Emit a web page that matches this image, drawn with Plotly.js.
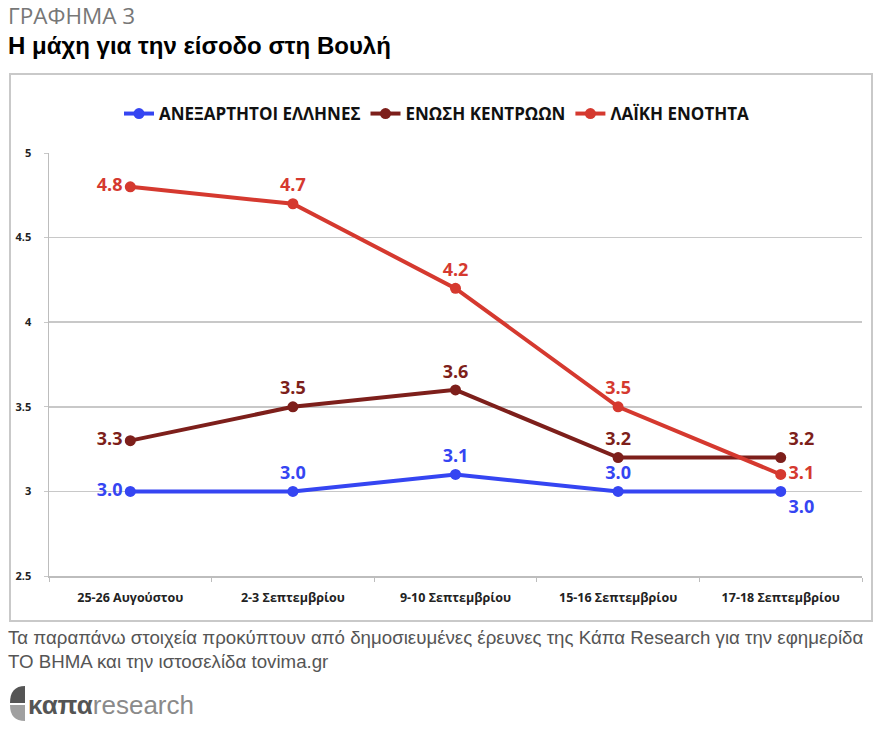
<!DOCTYPE html>
<html>
<head>
<meta charset="utf-8">
<script src="https://cdn.plot.ly/plotly-3.0.1.min.js"></script>
<style>
  html, body { margin: 0; padding: 0; background: #fff; }
  #chart { width: 881px; height: 731px; }
</style>
</head>
<body>
<div id="chart"></div>
<script>
// survey dates
const dates = ['25-26 Αυγούστου', '2-3 Σεπτεμβρίου', '9-10 Σεπτεμβρίου', '15-16 Σεπτεμβρίου', '17-18 Σεπτεμβρίου'];

// party names
const seriesNames = ['ΑΝΕΞΑΡΤΗΤΟΙ ΕΛΛΗΝΕΣ', 'ΕΝΩΣΗ ΚΕΝΤΡΩΩΝ', 'ΛΑΪΚΗ ΕΝΟΤΗΤΑ'];

// percentages
const anel = [3.0, 3.0, 3.1, 3.0, 3.0];
const enosi = [3.3, 3.5, 3.6, 3.2, 3.2];
const laiki = [4.8, 4.7, 4.2, 3.5, 3.1];

const yTicks = [2.5, 3, 3.5, 4, 4.5, 5];

const colors = ['#3545f2', '#7d1f1b', '#d5392f'];
const labelPos = [
  ['middle left', 'top center', 'top center', 'top center', 'bottom right'],
  ['middle left', 'top center', 'top center', 'top center', 'top right'],
  ['middle left', 'top center', 'top center', 'top center', 'middle right']
];

const allSeries = [anel, enosi, laiki];

const traces = allSeries.map((vals, i) => ({
  x: dates,
  y: vals,
  name: seriesNames[i],
  type: 'scatter',
  mode: 'lines+markers+text',
  line: { color: colors[i], width: 4 },
  marker: { color: colors[i], size: 11 },
  text: vals.map(v => v.toFixed(1)),
  textposition: labelPos[i],
  textfont: { family: 'Open Sans, sans-serif', size: 18, color: colors[i], weight: 'bold' },
  cliponaxis: false,
  hoverinfo: 'x+y+name'
}));

// pixel helpers for paper coords (plot area 49..862 x 153..576)
const px = v => (v - 49) / 813;
const py = v => (576 - v) / 423;

const layout = {
  width: 881,
  height: 731,
  margin: { l: 49, r: 19, t: 153, b: 155 },
  paper_bgcolor: '#fff',
  plot_bgcolor: '#fff',
  showlegend: true,
  legend: {
    orientation: 'h',
    x: px(437), xanchor: 'center',
    y: py(114), yanchor: 'middle',
    font: { family: 'Open Sans, sans-serif', size: 17, color: '#111', weight: 'bold' },
    itemclick: false
  },
  xaxis: {
    type: 'category',
    range: [-0.5, dates.length - 0.5],
    showgrid: false,
    showline: true,
    linecolor: '#bdbdbd',
    linewidth: 1.5,
    ticks: 'outside',
    tickson: 'boundaries',
    ticklen: 4,
    tickcolor: '#bdbdbd',
    ticklabelstandoff: 9,
    tickfont: { family: 'Open Sans, sans-serif', size: 12.5, color: '#222', weight: 'bold' },
    fixedrange: true
  },
  yaxis: {
    range: [2.5, 5],
    tickvals: yTicks,
    ticktext: yTicks.map(String),
    showgrid: true,
    gridcolor: '#c8c8c8',
    gridwidth: 1.5,
    showline: true,
    linecolor: '#bdbdbd',
    linewidth: 1.5,
    zeroline: false,
    ticks: 'outside',
    ticklen: 4,
    tickcolor: '#c8c8c8',
    ticklabelstandoff: 10,
    tickfont: { family: 'Open Sans, sans-serif', size: 11, color: '#222', weight: 'bold' },
    fixedrange: true
  },
  shapes: [
    // chart frame
    { type: 'rect', xref: 'paper', yref: 'paper',
      x0: px(10), x1: px(872), y0: py(621), y1: py(74),
      line: { color: '#c9c9c9', width: 2 }, fillcolor: 'rgba(0,0,0,0)', layer: 'below' },
    // logo mark, upper dark half
    { type: 'path', xref: 'paper', yref: 'paper',
      path: 'M ' + px(25) + ' ' + py(686) + ' L ' + px(25) + ' ' + py(703) + ' L ' + px(10) + ' ' + py(703) +
            ' Q ' + px(10) + ' ' + py(686) + ' ' + px(25) + ' ' + py(686) + ' Z',
      fillcolor: '#555', line: { width: 0 } },
    // logo mark, lower light half
    { type: 'path', xref: 'paper', yref: 'paper',
      path: 'M ' + px(10) + ' ' + py(705) + ' L ' + px(25) + ' ' + py(705) + ' L ' + px(25) + ' ' + py(721) +
            ' Q ' + px(10) + ' ' + py(721) + ' ' + px(10) + ' ' + py(705) + ' Z',
      fillcolor: '#a0a0a0', line: { width: 0 } }
  ],
  annotations: [
    { text: 'ΓΡΑΦΗΜΑ 3', xref: 'paper', yref: 'paper', x: px(6), y: py(15),
      xanchor: 'left', yanchor: 'middle', showarrow: false,
      font: { family: 'Open Sans, sans-serif', size: 22.5, color: '#777' } },
    { text: '<b>Η μάχη για την είσοδο στη Βουλή</b>', xref: 'paper', yref: 'paper', x: px(6), y: py(46),
      xanchor: 'left', yanchor: 'middle', showarrow: false,
      font: { family: 'Liberation Sans, Arial, sans-serif', size: 24, color: '#000' } },
    { text: 'Τα παραπάνω στοιχεία προκύπτουν από δημοσιευμένες έρευνες της Κάπα Research για την εφημερίδα<br>ΤΟ ΒΗΜΑ και την ιστοσελίδα tovima.gr',
      xref: 'paper', yref: 'paper', x: px(6), y: py(649),
      xanchor: 'left', yanchor: 'middle', align: 'left', showarrow: false,
      font: { family: 'Liberation Sans, Arial, sans-serif', size: 18.7, color: '#555' } },
    { text: '<b>καπα</b><span style="color:#8a8a8a">research</span>',
      xref: 'paper', yref: 'paper', x: px(26), y: py(705),
      xanchor: 'left', yanchor: 'middle', showarrow: false,
      font: { family: 'Liberation Sans, sans-serif', size: 26, color: '#555' } }
  ]
};

Plotly.newPlot('chart', traces, layout, { displayModeBar: false, staticPlot: true });
</script>
</body>
</html>
